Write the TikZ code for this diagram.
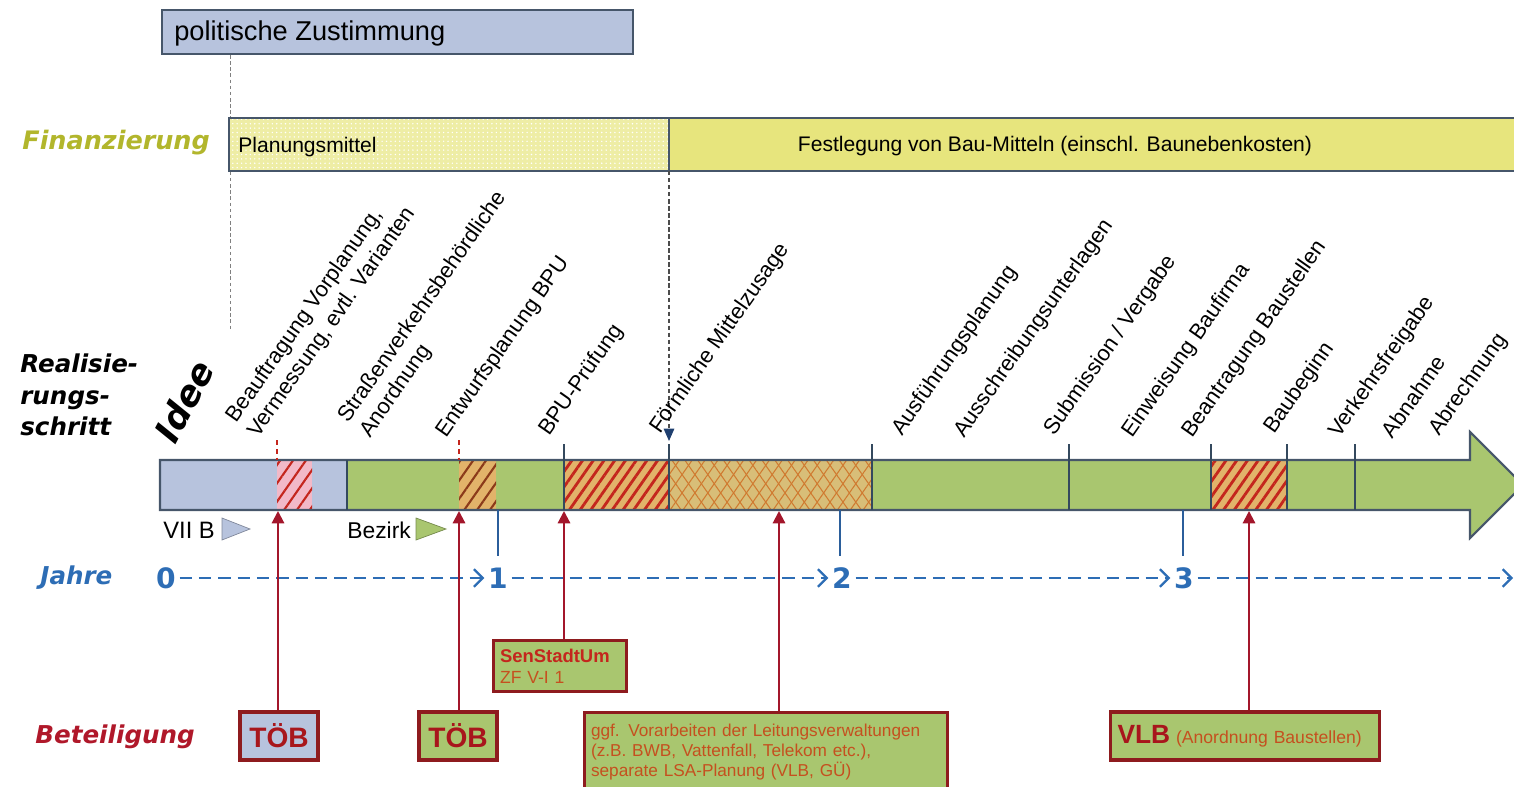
\documentclass[tikz,border=0pt]{standalone}
\usepackage{fontspec}
\setmainfont{Liberation Sans}
\newfontfamily\headfont{DejaVu Sans}
\usetikzlibrary{arrows.meta,patterns.meta}

\definecolor{blaugrau}{HTML}{B7C3DD}
\definecolor{gruen}{HTML}{A9C66F}
\definecolor{gelb}{HTML}{E7E57D}
\definecolor{hellgelb}{HTML}{EEEDA5}
\definecolor{finanzfarbe}{HTML}{B2B62C}
\definecolor{jahrblau}{HTML}{2D6DB5}
\definecolor{tickblau}{HTML}{2B5E9B}
\definecolor{beteilrot}{HTML}{B0182A}
\definecolor{rahmenrot}{HTML}{8E1B1E}
\definecolor{pfeilrot}{HTML}{A3162B}
\definecolor{textrot}{HTML}{C5501F}
\definecolor{toebrot}{HTML}{A8161C}
\definecolor{strich}{HTML}{34495E}
\definecolor{umriss}{HTML}{46566A}
\definecolor{rosa}{HTML}{F2B9C8}
\definecolor{orangebraun}{HTML}{E2B36A}
\definecolor{streifrot}{HTML}{C4261D}
\definecolor{streifbraun}{HTML}{8B3A1A}
\definecolor{kreuzgrund}{HTML}{D8BE78}
\definecolor{kreuzlinie}{HTML}{D07A30}
\definecolor{navy}{HTML}{1F3F6F}

\begin{document}
\begin{tikzpicture}[x=0.02cm, y=-0.02cm,
    zeile/.style={font=\headfont\bfseries\itshape\fontsize{14}{18}\selectfont, anchor=west, inner sep=0pt},
    schritt/.style={rotate=55, anchor=south west, inner sep=0pt, align=left, font=\fontsize{12.5}{15}\selectfont},
    trenner/.style={draw=strich, line width=1.2pt},
    jahr/.style={font=\headfont\bfseries\fontsize{16}{18}\selectfont, text=jahrblau, inner sep=2pt},
    jahrpfeil/.style={draw=jahrblau, line width=1.3pt, dash pattern=on 7pt off 4pt, -{Straight Barb[length=5pt,width=10pt]}},
    tick/.style={draw=tickblau, line width=1.6pt},
    beteil/.style={draw=rahmenrot, line width=1.8pt, fill=gruen, inner sep=3pt},
    rotpfeil/.style={draw=pfeilrot, line width=1.2pt, -{Triangle[length=7pt,width=7pt]}},
    toeb/.style={font=\bfseries\fontsize{16}{18}\selectfont, text=toebrot, minimum width=1.56cm, minimum height=0.96cm}]
    \useasboundingbox (0,0) rectangle (1514,787);
    \clip (0,0) rectangle (1514,787);

    \draw[fill=blaugrau, draw=umriss, line width=1pt] (162,10) rectangle (633,54);
    \node[anchor=west, inner sep=0pt, font=\fontsize{15.5}{18}\selectfont] (politik) at (174,33) {politische Zustimmung};
    \draw[gray, line width=0.5pt, dash pattern=on 2pt off 1.5pt] (230,55) -- (230,330);

    \node[zeile, text=finanzfarbe, font=\headfont\bfseries\itshape\fontsize{14.5}{18}\selectfont] (finanz) at (22,143) {Finanzierung};
    \fill[hellgelb] (229,118) rectangle (669,171);
    \fill[pattern={Dots[distance=2.5pt,radius=0.45pt]}, pattern color=white] (229,118) rectangle (669,171);
    \fill[gelb] (669,118) rectangle (1520,171);
    \draw[draw=umriss, line width=1.2pt] (229,118) rectangle (1520,171);
    \draw[draw=umriss, line width=1pt] (669,118) -- (669,171);
    \node[anchor=west, inner sep=0pt, font=\fontsize{12}{14}\selectfont] (planmittel) at (238,147) {Planungsmittel};
    \node[inner sep=0pt, font=\fontsize{12}{14}\selectfont] (baumittel) at (1055,146) {Festlegung von Bau-Mitteln (einschl. Baunebenkosten)};
    \draw[gray!60!black, line width=0.6pt, dash pattern=on 2.5pt off 1.5pt, -{Triangle[length=7pt,width=6pt,color=navy]}] (669,171) -- (669,441);

    \node[zeile, align=left, text=black] (realis) at (20,395) {Realisie-\\rungs-\\schritt};
    \node[rotate=62, anchor=south west, inner sep=0pt, font=\headfont\bfseries\itshape\fontsize{20}{22}\selectfont] (idee) at (176,446) {Idee};

    \foreach \x/\y/\t [count=\i] in {
        262/442/{Beauftragung Vorplanung,\\Vermessung, evtl. Varianten},
        374/442/{Straßenverkehrsbehördliche\\Anordnung},
        450/442/{Entwurfsplanung BPU},
        553/440/{BPU-Prüfung},
        664/438/{Förmliche Mittelzusage},
        906/440/{Ausführungsplanung},
        968/442/{Ausschreibungsunterlagen},
        1058/440/{Submission / Vergabe},
        1136/442/{Einweisung Baufirma},
        1196/442/{Beantragung Baustellen},
        1278/438/{Baubeginn},
        1343/442/{Verkehrsfreigabe},
        1393/440/{Abnahme},
        1443/440/{Abrechnung}}
        \node[schritt] (s\i) at (\x,\y) {\t};

    \fill[gruen] (160,460) -- (1470,460) -- (1470,432) -- (1523,485) -- (1470,538) -- (1470,510) -- (160,510) -- cycle;
    \fill[blaugrau] (160,460) rectangle (347,510);
    \fill[rosa] (277,460) rectangle (312,510);
    \fill[pattern={Lines[angle=55,distance=6pt,line width=1.2pt]}, pattern color=streifrot] (277,460) rectangle (312,510);
    \fill[orangebraun] (459,460) rectangle (496,510);
    \fill[pattern={Lines[angle=55,distance=6pt,line width=1.2pt]}, pattern color=streifbraun] (459,460) rectangle (496,510);
    \fill[orangebraun] (564,460) rectangle (669,510);
    \fill[pattern={Lines[angle=55,distance=5pt,line width=1.6pt]}, pattern color=streifrot] (564,460) rectangle (669,510);
    \fill[kreuzgrund] (669,460) rectangle (872,510);
    \fill[pattern={Lines[angle=55,distance=6pt,line width=0.6pt]}, pattern color=kreuzlinie] (669,460) rectangle (872,510);
    \fill[pattern={Lines[angle=-55,distance=6pt,line width=0.6pt]}, pattern color=kreuzlinie] (669,460) rectangle (872,510);
    \fill[orangebraun] (1211,460) rectangle (1287,510);
    \fill[pattern={Lines[angle=55,distance=5pt,line width=1.6pt]}, pattern color=streifrot] (1211,460) rectangle (1287,510);
    \draw[draw=umriss, line width=1.2pt] (160,460) -- (1470,460) -- (1470,432) -- (1523,485) -- (1470,538) -- (1470,510) -- (160,510) -- cycle;
    \draw[trenner] (347,460) -- (347,510);
    \foreach \x in {564,669,872,1069,1211,1287,1355}
        \draw[trenner] (\x,444) -- (\x,510);
    \foreach \x in {277,459}
        \draw[draw=streifrot, line width=1pt, dash pattern=on 3pt off 2pt] (\x,440) -- (\x,460);
    \foreach \x in {498,840,1183}
        \draw[tick] (\x,510) -- (\x,556);

    \node[anchor=west, inner sep=0pt, font=\fontsize{13.5}{16}\selectfont] (vii) at (163,530) {VII B};
    \draw[fill=blaugrau, draw=blaugrau!70!black, line width=0.4pt] (222,518) -- (250,529) -- (222,540) -- cycle;
    \node[anchor=west, inner sep=0pt, font=\fontsize{13}{16}\selectfont] (bezirk) at (347,530) {Bezirk};
    \draw[fill=gruen, draw=gruen!70!black, line width=0.4pt] (416,518) -- (446,529) -- (416,540) -- cycle;

    \node[zeile, text=jahrblau] (jahre) at (40,578) {Jahre};
    \node[jahr] (j0) at (166,578) {0};
    \node[jahr] (j1) at (498,578) {1};
    \node[jahr] (j2) at (842,578) {2};
    \node[jahr] (j3) at (1184,578) {3};
    \coordinate (jend) at (1513,578);
    \draw[jahrpfeil] (j0) -- (j1);
    \draw[jahrpfeil] (j1) -- (j2);
    \draw[jahrpfeil] (j2) -- (j3);
    \draw[jahrpfeil] (j3) -- (jend);

    \node[zeile, text=beteilrot] (beteil) at (35,737) {Beteiligung};
    \node[beteil, toeb, fill=blaugrau] (toeba) at (279,736) {TÖB};
    \node[beteil, toeb] (toebb) at (458,736) {TÖB};
    \node[beteil, align=left, text=textrot, minimum width=2.66cm, minimum height=1.02cm, text width=2.4cm, font=\fontsize{10}{12}\selectfont] (senstadt) at (560,666) {\textcolor{streifrot}{\bfseries\fontsize{10.5}{12}\selectfont SenStadtUm}\\ZF V-I 1};
    \node[beteil, align=left, text=textrot, minimum width=7.26cm, minimum height=1.58cm, text width=7cm, font=\fontsize{9.8}{11.5}\selectfont] (ggf) at (766,752) {ggf. Vorarbeiten der Leitungsverwaltungen\\(z.B. BWB, Vattenfall, Telekom etc.),\\separate LSA-Planung (VLB, GÜ)};
    \node[beteil, align=left, minimum width=5.38cm, minimum height=0.96cm, text width=5.1cm] (vlb) at (1245,736) {\textcolor{toebrot}{\bfseries\fontsize{15}{18}\selectfont VLB} \textcolor{textrot}{\fontsize{10}{12}\selectfont(Anordnung Baustellen)}};

    \coordinate (p1) at (278,511);
    \coordinate (p2) at (459,511);
    \coordinate (p3) at (564,511);
    \coordinate (p4) at (779,511);
    \coordinate (p5) at (1249,511);
    \draw[rotpfeil] (p1 |- toeba.north) -- (p1);
    \draw[rotpfeil] (p2 |- toebb.north) -- (p2);
    \draw[rotpfeil] (p3 |- senstadt.north) -- (p3);
    \draw[rotpfeil] (p4 |- ggf.north) -- (p4);
    \draw[rotpfeil] (p5 |- vlb.north) -- (p5);
\end{tikzpicture}
\end{document}
